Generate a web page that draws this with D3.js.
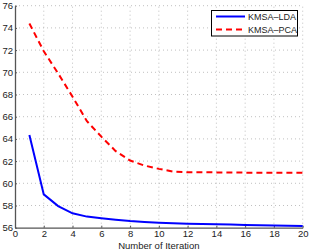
<!DOCTYPE html>
<html>
<head>
<meta charset="utf-8">
<script src="https://cdn.jsdelivr.net/npm/d3@7"></script>
<style>
  body { margin: 0; background: #fff; }
  text { font-family: "Liberation Sans", Arial, sans-serif; }
</style>
</head>
<body>
<div id="chart"></div>
<script>
"use strict";

var iterations = [1, 2, 3, 4, 5, 6, 7, 8, 9, 10, 11, 12, 13, 14, 15, 16, 17, 18, 19, 20];
var ldaValues = [64.35, 59.0, 57.95, 57.3, 57.0, 56.85, 56.72, 56.6, 56.52, 56.45, 56.4, 56.36, 56.34, 56.32, 56.28, 56.25, 56.22, 56.2, 56.17, 56.15];
var pcaValues = [74.4, 71.9, 69.9, 67.8, 65.6, 64.2, 62.9, 62.05, 61.6, 61.3, 61.05, 61.0, 61.0, 60.98, 60.97, 60.96, 60.96, 60.95, 60.95, 60.95];
var xTicks = [0, 2, 4, 6, 8, 10, 12, 14, 16, 18, 20];
var yTicks = [56, 58, 60, 62, 64, 66, 68, 70, 72, 74, 76];
var seriesNames = ["KMSA\u2013LDA", "KMSA\u2013PCA"];

var width = 309, height = 252;
var margin = {left: 15, right: 6.3, top: 5.7, bottom: 24.3};

var svg = d3.select("#chart").append("svg")
    .attr("width", width)
    .attr("height", height);

var x = d3.scaleLinear().domain([0, 20]).range([margin.left, width - margin.right]);
var y = d3.scaleLinear().domain([56, 76]).range([height - margin.bottom, margin.top]);

// grid
var grid = svg.append("g").attr("stroke", "#b0b0b0").attr("stroke-width", 0.8)
    .attr("stroke-dasharray", "1,3");
grid.selectAll("line.gx").data(xTicks.slice(1)).enter().append("line")
    .attr("x1", function (d) { return x(d); })
    .attr("x2", function (d) { return x(d); })
    .attr("y1", y(56)).attr("y2", y(76));
grid.selectAll("line.gy").data(yTicks.slice(1)).enter().append("line")
    .attr("x1", x(0)).attr("x2", x(20))
    .attr("y1", function (d) { return y(d); })
    .attr("y2", function (d) { return y(d); });

// axes
var xAxis = svg.append("g")
    .attr("transform", "translate(0," + y(56) + ")")
    .call(d3.axisBottom(x).tickValues(xTicks).tickSizeInner(-2).tickSizeOuter(0).tickPadding(5));
var yAxis = svg.append("g")
    .attr("transform", "translate(" + x(0) + ",0)")
    .call(d3.axisLeft(y).tickValues(yTicks).tickSizeInner(-2).tickSizeOuter(0).tickPadding(2));

[xAxis, yAxis].forEach(function (a) {
    a.select(".domain").attr("stroke", "#555").attr("stroke-width", 1.3);
    a.selectAll(".tick line").attr("stroke", "#555");
    a.selectAll(".tick text").attr("font-size", 9.5).attr("fill", "#222");
});
xAxis.selectAll(".tick text").attr("dy", "0.5em");

svg.append("text")
    .attr("x", (x(0) + x(20)) / 2)
    .attr("y", 249)
    .attr("text-anchor", "middle")
    .attr("font-size", 9.5)
    .attr("fill", "#222")
    .text("Number of Iteration");

var line = d3.line()
    .x(function (d) { return x(d[0]); })
    .y(function (d) { return y(d[1]); });

svg.append("path")
    .datum(d3.zip(iterations, pcaValues))
    .attr("fill", "none")
    .attr("stroke", "#ff0000")
    .attr("stroke-width", 2)
    .attr("stroke-dasharray", "6,4")
    .attr("d", line);

svg.append("path")
    .datum(d3.zip(iterations, ldaValues))
    .attr("fill", "none")
    .attr("stroke", "#0000ff")
    .attr("stroke-width", 2)
    .attr("d", line);

// legend
var legend = svg.append("g");
legend.append("rect")
    .attr("x", 211.5).attr("y", 10.5)
    .attr("width", 86).attr("height", 25.5)
    .attr("fill", "#fff")
    .attr("stroke", "#000")
    .attr("stroke-width", 1);

var legendColors = ["#0000ff", "#ff0000"];
var legendDash = [null, "6,4"];
seriesNames.forEach(function (name, i) {
    var ly = 16.5 + i * 13;
    legend.append("line")
        .attr("x1", 216).attr("x2", 245)
        .attr("y1", ly).attr("y2", ly)
        .attr("stroke", legendColors[i])
        .attr("stroke-width", 2)
        .attr("stroke-dasharray", legendDash[i]);
    legend.append("text")
        .attr("x", 248).attr("y", ly + 3.3)
        .attr("font-size", 9)
        .attr("fill", "#222")
        .text(name);
});
</script>
</body>
</html>
